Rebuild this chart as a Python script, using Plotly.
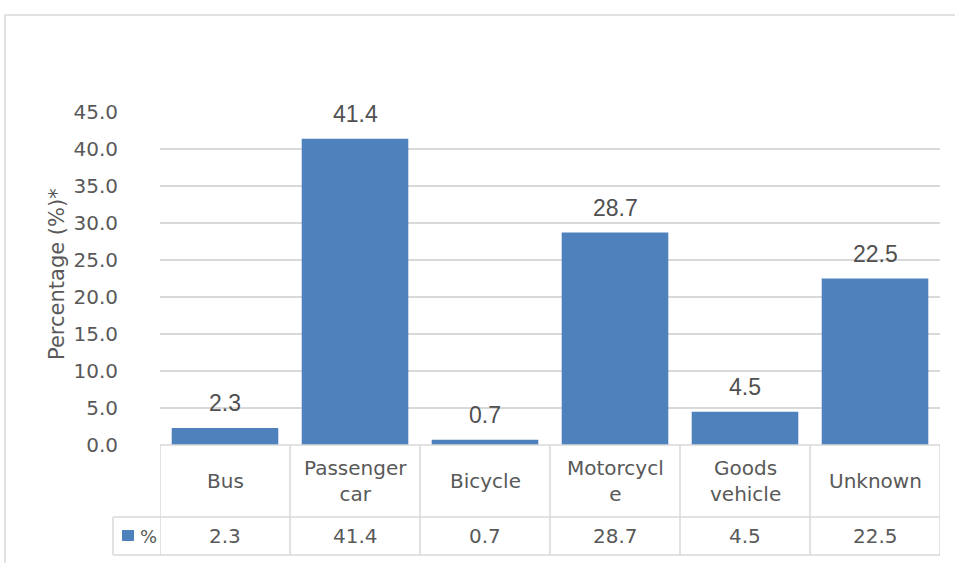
import plotly.graph_objects as go

categories = ["Bus", "Passenger<br>car", "Bicycle", "Motorcycl<br>e", "Goods<br>vehicle", "Unknown"]
values = [2.3, 41.4, 0.7, 28.7, 4.5, 22.5]
series_name = "%"
y_ticks = [0, 5, 10, 15, 20, 25, 30, 35, 40, 45]

BLUE = "#4F81BD"
GRID = "#D9D9D9"
TXT = "#595959"
FONT = "DejaVu Sans"

x_idx = list(range(len(categories)))

fig = go.Figure()
fig.add_trace(go.Bar(
    x=x_idx, y=values, marker=dict(color=BLUE, line=dict(width=0)),
    width=0.82, showlegend=False, hoverinfo="skip",
))

# plot geometry (px)
L, R, T, B = 160, 15, 112, 118
W, H = 955, 563
pw, ph = W - L - R, H - T - B

def py(pix):  # pixel y -> paper y
    return (H - B - pix) / ph

def px(pix):  # pixel x -> paper x
    return (pix - L) / pw

row1 = py(517)
row2 = py(555)

shapes = []
# outer chart border
shapes.append(dict(type="rect", xref="paper", yref="paper", x0=px(5), x1=px(975),
                   y0=py(600), y1=py(15), line=dict(color=GRID, width=1.5), layer="below"))
# table horizontal lines
shapes.append(dict(type="line", xref="x", yref="paper", x0=-0.5, x1=len(categories) - 0.5,
                   y0=0, y1=0, line=dict(color=GRID, width=1.5)))
for yy in (row1, row2):
    shapes.append(dict(type="line", xref="paper", yref="paper", x0=px(113), x1=1,
                       y0=yy, y1=yy, line=dict(color=GRID, width=1.5)))
# vertical lines
for i in range(len(categories) + 1):
    shapes.append(dict(type="line", xref="x", yref="paper", x0=i - 0.5, x1=i - 0.5,
                       y0=0, y1=row2, line=dict(color=GRID, width=1.5)))
shapes.append(dict(type="line", xref="paper", yref="paper", x0=px(113), x1=px(113),
                   y0=row1, y1=row2, line=dict(color=GRID, width=1.5)))
# legend key
shapes.append(dict(type="rect", xref="paper", yref="paper", x0=px(122), x1=px(134),
                   y0=py(541), y1=py(530), line=dict(width=0), fillcolor=BLUE))

annotations = []
for i, v in enumerate(values):
    annotations.append(dict(x=i, y=v, xref="x", yref="y", text=f"{v:.1f}",
                            showarrow=False, yshift=10,
                            font=dict(family="Liberation Sans", size=23, color="#505050"),
                            xanchor="center", yanchor="bottom"))
for i, (c, v) in enumerate(zip(categories, values)):
    annotations.append(dict(x=i, y=(0 + row1) / 2, xref="x", yref="paper", text=c,
                            showarrow=False, font=dict(family=FONT, size=20, color=TXT),
                            xanchor="center", yanchor="middle"))
    annotations.append(dict(x=i, y=(row1 + row2) / 2, xref="x", yref="paper", text=f"{v:.1f}",
                            showarrow=False, font=dict(family=FONT, size=20, color=TXT),
                            xanchor="center", yanchor="middle"))
annotations.append(dict(x=px(138), y=(row1 + row2) / 2, xref="paper", yref="paper", text=series_name,
                        showarrow=False, font=dict(family=FONT, size=18, color=TXT),
                        xanchor="left", yanchor="middle"))
annotations.append(dict(x=px(57), y=py(274), xref="paper", yref="paper", text="Percentage (%)*",
                        textangle=-90, showarrow=False,
                        font=dict(family=FONT, size=21, color=TXT),
                        xanchor="center", yanchor="middle"))

fig.update_layout(
    width=W, height=H, margin=dict(l=L, r=R, t=T, b=B),
    paper_bgcolor="white", plot_bgcolor="white",
    shapes=shapes, annotations=annotations, bargap=0.18,
    xaxis=dict(range=[-0.5, len(categories) - 0.5], showticklabels=False, showgrid=False,
               zeroline=False, showline=False, ticks=""),
    yaxis=dict(range=[0, 45], tickvals=y_ticks, ticktext=[f"{t:.1f}" for t in y_ticks],
               showgrid=True, gridcolor=GRID, gridwidth=1.5, zeroline=False, showline=False,
               ticks="outside", ticklen=37, tickcolor="rgba(0,0,0,0)",
               tickfont=dict(family=FONT, size=20, color=TXT)),
)

fig.write_html("out.html")
